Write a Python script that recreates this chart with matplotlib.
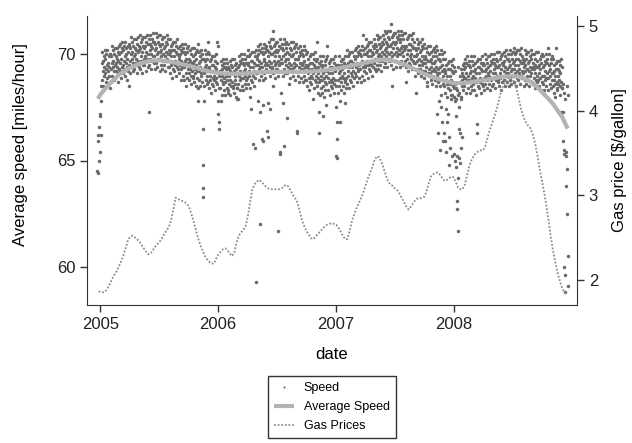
# -*- coding: utf-8 -*-

# Import required libraries
import matplotlib
matplotlib.use('Agg')
import matplotlib.pyplot as plt
import matplotlib.dates as mdates
import pandas as pd

# Parameters for the figure
plt.rcParams['font.family'] = ['Liberation Sans', 'DejaVu Sans']
plt.rcParams['axes.labelsize'] = 12
plt.rcParams['xtick.labelsize'] = 12
plt.rcParams['ytick.labelsize'] = 12
plt.rcParams['axes.edgecolor'] = '#333333'
plt.rcParams['xtick.color'] = '#333333'
plt.rcParams['ytick.color'] = '#333333'
plt.rcParams['xtick.labelcolor'] = '#222222'
plt.rcParams['ytick.labelcolor'] = '#222222'

# Colors
speed_color = '#6a6a6a'
avg_color = '#b3b3b3'
gas_color = '#8c8c8c'

# Daily speed readings, one list per month
speed_dec2004 = [64.5, 66.2, 65.9, 64.4, 66.6, 65.0, 67.1, 65.4]

speed_2005 = [
    [67.2, 66.2, 67.8, 68.5, 69.6, 68.8, 70.1, 69.2, 69.7, 68.5, 69.4, 69.9, 69.0, 70.2, 69.1,
     69.8, 68.7, 69.3, 70.0, 68.9, 69.5, 70.2, 68.6, 69.6, 69.2, 69.9, 69.0, 69.4, 68.4, 70.0],
    [70.0, 69.3, 68.7, 69.9, 69.6, 70.4, 69.0, 69.7, 69.4, 70.2, 68.8, 70.0, 69.2, 69.5, 70.3,
     68.9, 69.9, 69.6, 69.2, 70.3, 69.4, 69.8, 68.7, 70.1, 69.1, 69.7, 70.4, 69.3],
    [70.0, 69.2, 70.5, 69.6, 70.1, 68.9, 69.8, 70.3, 69.4, 70.6, 69.5, 70.2, 69.1, 69.7, 70.4,
     69.3, 69.9, 70.6, 69.0, 70.0, 69.6, 70.3, 69.4, 69.8, 68.8, 70.4, 70.1, 69.2, 70.5, 69.5, 68.5],
    [70.4, 69.7, 69.1, 70.3, 70.0, 70.8, 69.4, 70.1, 69.8, 70.6, 69.2, 70.4, 69.6, 69.9, 70.7,
     69.3, 70.3, 70.0, 69.6, 70.7, 69.8, 70.2, 69.1, 70.5, 69.5, 70.1, 70.8, 69.7, 70.4, 69.4],
    [69.6, 70.2, 70.9, 69.3, 70.3, 69.9, 70.6, 69.7, 70.1, 69.1, 70.7, 70.4, 69.5, 70.8, 69.8,
     70.3, 69.5, 70.8, 69.9, 70.4, 69.2, 70.1, 70.6, 69.7, 70.9, 69.8, 70.5, 69.4, 70.0, 70.7, 67.3],
    [69.5, 70.5, 70.2, 69.8, 70.9, 70.0, 70.4, 69.3, 70.7, 69.7, 70.3, 71.0, 69.9, 70.6, 69.6,
     70.6, 69.9, 69.3, 70.5, 70.2, 71.0, 69.6, 70.3, 70.0, 70.8, 69.4, 70.6, 69.8, 70.1, 70.9],
    [70.5, 69.8, 69.2, 70.4, 70.1, 70.9, 69.5, 70.2, 69.9, 70.7, 69.3, 70.5, 69.7, 70.0, 70.8,
     70.3, 69.5, 70.8, 69.9, 70.4, 69.2, 70.1, 70.6, 69.7, 70.9, 69.8, 70.5, 69.4, 70.0, 70.7, 70.2],
    [69.4, 70.0, 70.7, 69.1, 70.1, 69.7, 70.4, 69.5, 69.9, 68.9, 70.5, 70.2, 69.3, 70.6, 69.6,
     69.2, 70.2, 69.9, 69.5, 70.6, 69.7, 70.1, 69.0, 70.4, 69.4, 70.0, 70.7, 69.6, 70.3, 69.3, 69.8],
    [69.9, 69.1, 70.4, 69.5, 70.0, 68.8, 69.7, 70.2, 69.3, 70.5, 69.4, 70.1, 69.0, 69.6, 70.3,
     70.1, 69.4, 68.8, 70.0, 69.7, 70.5, 69.1, 69.8, 68.5, 70.3, 68.9, 70.1, 69.3, 69.6, 70.4],
    [68.8, 69.8, 69.5, 69.1, 70.2, 69.3, 69.7, 68.6, 70.0, 69.0, 69.6, 70.3, 69.2, 69.9, 68.9,
     69.0, 69.6, 70.3, 68.7, 69.7, 69.3, 70.0, 69.1, 69.5, 68.5, 70.1, 69.8, 68.9, 70.2, 69.2,
     68.4, 67.8, 70.5],
    [69.6, 68.8, 70.1, 69.2, 69.7, 68.5, 69.4, 69.9, 69.0, 70.2, 69.1, 69.8, 68.7, 69.3, 70.0,
     66.5, 64.8, 63.7, 63.3, 67.8,
     69.8, 69.1, 68.5, 69.7, 69.4, 70.2, 68.8, 69.5, 69.2, 70.0, 68.6, 69.8, 69.0, 69.3, 70.1, 70.6],
    [68.7, 69.3, 70.0, 68.4, 69.4, 69.0, 69.7, 68.8, 69.2, 68.2, 69.8, 69.5, 68.6, 69.9, 68.9,
     68.5, 69.5, 69.2, 68.8, 69.9, 69.0, 69.4, 68.3, 69.7, 68.7, 69.3, 70.0, 68.9, 69.6, 68.6,
     70.6, 67.8, 70.4],
]

speed_2006 = [
    [67.2, 66.8, 69.0, 66.5, 68.4, 69.2, 69.2, 68.4, 69.7, 68.8, 67.8, 69.3, 68.1, 69.0, 69.5,
     68.6, 69.8, 68.7, 69.4, 68.3, 68.9, 69.6, 69.4, 68.7, 68.1, 69.3, 69.0, 69.8, 68.4, 69.1,
     68.8, 69.6, 68.2, 69.4],
    [68.3, 69.3, 69.0, 68.6, 69.7, 68.8, 69.2, 68.1, 69.5, 68.5, 69.1, 69.8, 68.7, 69.4, 68.4,
     68.5, 69.1, 69.8, 68.2, 69.2, 68.8, 69.5, 68.6, 69.0, 68.0, 69.6, 69.3, 68.4, 67.9],
    [68.4, 67.9, 69.4, 68.6, 69.9, 69.0, 69.5, 68.3, 69.2, 69.7, 68.8, 70.0, 68.9, 69.6, 68.5,
     69.1, 69.8, 69.6, 68.9, 68.3, 69.5, 69.2, 70.0, 68.6, 69.3, 69.0, 69.8, 68.4, 69.6, 68.8,
     69.1, 69.9],
    [68.9, 69.5, 70.2, 68.6, 69.6, 69.2, 69.9, 69.0, 68.0, 69.4, 68.4, 70.0, 69.7, 68.8, 67.4,
     70.1, 69.1, 68.7, 69.7, 69.4, 69.0, 65.8, 70.1, 69.2, 69.6, 68.5, 69.9, 65.6, 68.9, 69.5,
     70.2, 69.1, 59.3, 69.8],
    [69.9, 69.1, 70.4, 67.8, 69.5, 70.0, 68.8, 69.7, 70.2, 69.3, 67.3, 62.0, 70.5, 69.4, 70.1,
     69.0, 69.6, 70.3, 66.0, 70.1, 69.4, 68.8, 70.0, 67.6, 65.9, 69.7, 70.5, 69.1, 69.8, 69.5,
     70.3, 68.9, 70.1, 69.3, 69.6, 70.4, 66.4, 70.2],
    [69.2, 70.2, 69.9, 67.7, 66.1, 69.5, 70.6, 69.7, 70.1, 69.0, 67.4, 70.4, 69.4, 70.0, 70.7,
     69.6, 70.3, 69.3, 69.4, 70.0, 70.7, 68.5, 71.1, 69.1, 70.1, 69.7, 70.4, 69.5, 69.9, 68.9,
     70.5, 70.2, 69.3, 70.6, 69.6],
    [70.1, 69.3, 70.6, 61.7, 69.7, 70.2, 69.0, 69.9, 70.4, 69.5, 65.4, 65.3, 70.7, 69.6, 70.3,
     69.2, 68.2, 69.8, 70.5, 70.3, 69.6, 69.0, 70.2, 69.9, 67.7, 65.7, 70.7, 69.3, 70.0, 69.7,
     70.5, 69.1, 70.3, 69.5, 69.8, 70.6],
    [67.0, 69.1, 70.1, 69.8, 69.4, 70.5, 69.6, 68.6, 70.0, 68.9, 70.3, 69.3, 69.9, 70.6, 69.5,
     70.2, 69.2, 69.3, 69.9, 70.6, 69.0, 70.0, 69.6, 70.3, 69.4, 69.8, 68.8, 70.4, 70.1, 69.2,
     70.5, 69.5],
    [66.4, 69.8, 66.3, 69.8, 69.0, 70.3, 69.4, 69.9, 68.7, 69.6, 70.1, 69.2, 70.4, 69.3, 70.0,
     68.9, 69.5, 70.2, 70.0, 69.3, 68.7, 69.9, 69.6, 70.4, 69.0, 69.7, 69.4, 70.2, 68.8, 70.0,
     69.2, 69.5],
    [68.8, 69.4, 70.1, 68.5, 69.5, 69.1, 69.8, 68.9, 69.3, 68.3, 69.9, 69.6, 68.7, 70.0, 69.0,
     68.6, 69.6, 69.3, 68.9, 70.0, 67.9, 69.1, 69.5, 68.4, 69.8, 68.8, 69.4, 70.1, 69.0, 69.7,
     68.7],
    [69.3, 68.5, 69.8, 70.6, 68.9, 69.4, 68.2, 69.1, 69.6, 68.7, 67.3, 66.3, 68.1, 69.9, 68.8,
     69.5, 68.4, 69.0, 69.7, 69.5, 68.8, 68.2, 69.4, 69.1, 69.9, 68.5, 67.1, 68.0, 69.2, 68.9,
     69.7, 68.3, 69.5, 68.7, 69.0, 69.8],
    [68.6, 67.6, 69.2, 70.4, 69.9, 68.3, 69.3, 68.9, 69.6, 68.7, 69.1, 68.1, 69.7, 69.4, 68.5,
     69.8, 68.8, 68.4, 69.4, 69.1, 68.7, 69.8, 68.9, 69.3, 68.2, 69.6, 68.6, 69.2, 69.9, 68.8,
     69.5, 68.5],
]

speed_2007 = [
    [65.2, 67.5, 66.0, 65.1, 66.8, 69.5, 68.8, 68.2, 69.4, 69.1, 69.9, 68.5, 69.2, 68.9, 66.8,
     67.8, 69.7, 68.3, 69.5, 68.7, 69.0, 69.8, 69.3, 68.5, 69.8, 68.9, 69.4, 68.2, 69.1, 69.6,
     68.7, 69.9, 68.8, 67.7, 69.5, 68.4],
    [68.9, 69.5, 70.2, 68.6, 69.6, 69.2, 69.9, 69.0, 69.4, 68.4, 70.0, 69.7, 68.8, 70.1, 69.1,
     68.7, 69.7, 69.4, 69.0, 70.1, 69.2, 69.6, 68.5, 69.9, 68.9, 69.5, 70.2, 69.1],
    [69.8, 69.0, 70.3, 69.4, 69.9, 68.7, 69.6, 70.1, 69.2, 70.4, 69.3, 70.0, 68.9, 69.5, 70.2,
     70.0, 69.3, 68.7, 69.9, 69.6, 70.4, 69.0, 69.7, 69.4, 70.9, 70.2, 68.8, 70.0, 69.2, 69.5,
     70.3],
    [69.4, 70.0, 70.7, 69.1, 70.1, 69.7, 70.4, 69.5, 69.9, 68.9, 70.5, 70.2, 69.3, 70.6, 69.6,
     69.2, 70.2, 69.9, 69.5, 70.6, 69.7, 70.1, 69.0, 70.4, 69.4, 70.0, 70.7, 69.6, 70.3, 69.3],
    [70.5, 69.8, 69.2, 70.4, 70.1, 70.9, 69.5, 70.2, 69.9, 70.7, 69.3, 70.5, 69.7, 70.0, 70.8,
     70.3, 69.5, 70.8, 69.9, 70.4, 69.2, 70.1, 70.6, 69.7, 70.9, 69.8, 70.5, 69.4, 70.0, 70.7, 70.2],
    [71.1, 69.6, 70.6, 70.3, 69.9, 71.0, 70.1, 70.5, 69.4, 70.8, 69.8, 70.4, 71.1, 70.0, 70.7,
     69.7, 69.8, 70.4, 71.1, 71.4, 69.5, 70.5, 70.1, 70.8, 69.9, 68.5, 70.3, 69.3, 70.9, 70.6,
     69.7, 71.0, 70.0],
    [70.5, 69.7, 71.0, 70.1, 70.6, 69.4, 70.3, 70.8, 69.9, 71.1, 70.0, 70.7, 69.6, 70.2, 70.9,
     70.7, 70.0, 69.4, 70.6, 70.3, 71.1, 69.7, 70.4, 70.1, 70.9, 69.5, 70.7, 69.9, 70.2, 71.0, 70.4],
    [69.7, 70.3, 71.0, 69.4, 68.7, 70.4, 70.0, 70.7, 69.8, 70.2, 69.2, 70.8, 70.5, 69.6, 70.9,
     69.9, 69.5, 70.5, 70.2, 69.8, 70.9, 70.0, 70.4, 69.3, 70.7, 69.7, 70.3, 71.0, 69.9, 70.6, 69.6],
    [70.3, 69.6, 69.0, 70.2, 68.2, 69.9, 70.7, 69.3, 70.0, 69.7, 70.5, 69.1, 70.3, 69.5, 69.8,
     70.6, 70.1, 69.3, 70.6, 69.7, 70.2, 69.0, 69.9, 70.4, 69.5, 70.7, 69.6, 70.3, 69.2, 69.8, 70.5],
    [68.9, 69.9, 69.6, 69.2, 70.3, 69.4, 69.8, 68.7, 68.5, 70.1, 69.1, 69.7, 70.4, 69.3, 70.0,
     69.0, 69.1, 69.7, 70.4, 68.8, 69.8, 69.4, 70.1, 69.2, 69.6, 68.6, 70.2, 69.9, 69.0, 70.3, 69.3],
    [69.6, 68.8, 70.1, 69.2, 69.7, 68.5, 70.4, 69.4, 69.9, 69.0, 67.2, 70.2, 69.1, 69.8, 66.3,
     68.7, 69.3, 67.8, 70.0, 69.8, 69.1, 65.5, 68.5, 69.7, 69.4, 68.1, 67.5, 70.2, 68.8, 69.5,
     66.8, 69.2, 70.0, 68.6, 69.8, 69.0, 65.9, 69.3, 70.1],
    [68.5, 66.3, 69.1, 69.8, 65.9, 68.2, 69.2, 67.4, 68.8, 69.5, 65.4, 68.6, 69.0, 66.8, 68.0,
     69.6, 67.2, 69.3, 68.4, 64.8, 69.7, 68.7, 66.1, 68.3, 69.3, 65.6, 69.0, 68.6, 67.9, 69.7,
     68.8, 68.1, 69.2, 68.1, 65.2, 69.5, 68.5, 69.1, 69.8, 68.7, 69.4, 68.4],
]

speed_2008 = [
    [68.0, 65.3, 67.8, 68.6, 65.0, 69.2, 67.1, 68.4, 64.7, 67.9, 68.3, 65.2, 63.1, 62.7, 61.7,
     68.1, 64.2, 69.4, 66.5, 68.2, 65.1, 67.5, 69.0, 64.9, 68.7, 66.3, 68.0, 69.3, 65.6, 67.9,
     68.5, 69.1, 66.1, 68.8, 69.5, 68.3, 69.0, 68.6, 69.6, 68.9],
    [69.3, 68.5, 69.8, 68.9, 69.4, 68.2, 69.1, 69.6, 68.7, 69.9, 68.8, 69.5, 68.4, 69.0, 69.7,
     69.5, 68.8, 68.2, 69.4, 69.1, 69.9, 68.5, 69.2, 68.9, 69.7, 68.3, 69.5, 68.7, 69.0],
    [68.6, 69.2, 69.9, 68.3, 69.3, 68.9, 69.6, 68.7, 69.1, 68.1, 69.7, 66.7, 66.3, 69.4, 68.5,
     69.8, 68.8, 68.4, 69.4, 69.1, 68.7, 69.8, 68.9, 69.3, 68.2, 69.6, 68.6, 69.2, 69.9, 68.8,
     69.5, 68.5],
    [69.6, 68.9, 68.3, 69.5, 69.2, 70.0, 68.6, 69.3, 69.0, 69.8, 68.4, 69.6, 68.8, 69.1, 69.9,
     69.4, 68.6, 69.9, 69.0, 69.5, 68.3, 69.2, 69.7, 68.8, 70.0, 68.9, 69.6, 68.5, 69.1, 69.8],
    [68.6, 69.6, 69.3, 68.9, 70.0, 69.1, 69.5, 68.4, 69.8, 68.8, 69.4, 70.1, 69.0, 69.7, 68.7,
     68.8, 69.4, 70.1, 68.5, 69.5, 69.1, 69.8, 68.9, 69.3, 68.3, 69.9, 69.6, 68.7, 70.0, 69.0, 69.5],
    [69.6, 68.8, 70.1, 69.2, 69.7, 68.5, 69.4, 69.9, 69.0, 70.2, 69.1, 69.8, 68.7, 69.3, 70.0,
     69.8, 69.1, 68.5, 69.7, 69.4, 70.2, 68.8, 69.5, 69.2, 70.0, 68.6, 69.8, 69.0, 69.3, 70.1],
    [69.0, 69.6, 70.3, 68.7, 69.7, 69.3, 70.0, 69.1, 69.5, 68.5, 70.1, 69.8, 68.9, 70.2, 69.2,
     68.8, 69.8, 69.5, 69.1, 70.2, 69.3, 69.7, 68.6, 70.0, 69.0, 69.6, 70.3, 69.2, 69.9, 68.9, 69.6],
    [69.8, 69.1, 68.5, 69.7, 69.4, 70.2, 68.8, 69.5, 69.2, 70.0, 68.6, 69.8, 69.0, 69.3, 70.1,
     69.6, 68.8, 70.1, 69.2, 69.7, 68.5, 69.4, 69.9, 69.0, 70.2, 69.1, 69.8, 68.7, 69.3, 70.0, 69.4],
    [68.6, 69.6, 69.3, 68.9, 70.0, 69.1, 69.5, 68.4, 69.8, 68.8, 69.4, 70.1, 69.0, 69.7, 68.7,
     68.8, 69.4, 70.1, 68.5, 69.5, 69.1, 69.8, 68.9, 69.3, 68.3, 69.9, 69.6, 68.7, 70.0, 69.0],
    [69.4, 68.6, 69.9, 69.0, 69.5, 68.3, 69.2, 69.7, 68.8, 70.0, 68.9, 69.6, 68.5, 69.1, 69.8,
     69.6, 68.9, 68.3, 70.3, 69.5, 69.2, 70.0, 68.6, 69.3, 69.0, 69.8, 68.4, 69.6, 68.8, 69.1, 69.9],
    [68.5, 69.1, 69.8, 68.2, 69.2, 68.8, 69.5, 68.6, 69.0, 68.0, 69.6, 70.3, 69.3, 68.4, 69.7,
     68.7, 68.3, 69.3, 69.0, 68.6, 69.7, 68.8, 69.2, 68.1, 69.5, 68.5, 69.1, 69.8, 67.3, 68.7,
     69.4, 68.4],
    [68.4, 67.3, 65.9, 68.6, 65.5, 60.0, 68.2, 65.3, 58.8, 59.6, 67.9, 65.4, 63.8, 65.2, 68.5,
     64.6, 62.5, 60.5, 59.1, 68.1],
]
speed_end = '2008-12-20'

# Smoothed average speed, first of each month
avg_speed = [68.1, 68.65, 69.05, 69.35, 69.55, 69.68, 69.72, 69.66, 69.57, 69.46, 69.33, 69.2,
             69.12, 69.08, 69.08, 69.1, 69.15, 69.17, 69.17, 69.17, 69.17, 69.18, 69.2, 69.26,
             69.32, 69.4, 69.5, 69.6, 69.7, 69.76, 69.68, 69.52, 69.3, 69.08, 68.9, 68.75,
             68.64, 68.64, 68.7, 68.78, 68.86, 68.94, 68.98, 68.9, 68.65, 68.2, 67.7, 67.05]
avg_first = 67.9
avg_last = 66.5

# Weekly gas prices from 2004-12-27
gas_prices = [1.86,
    1.86, 1.85, 1.86, 1.90, 1.95, 2.01, 2.06, 2.10, 2.16, 2.22, 2.29, 2.38, 2.47, 2.51, 2.52, 2.50,
    2.48, 2.45, 2.41, 2.37, 2.33, 2.30, 2.31, 2.35, 2.39, 2.42, 2.45, 2.49, 2.54, 2.58, 2.62, 2.70,
    2.82, 2.97, 2.96, 2.94, 2.93, 2.92, 2.90, 2.86, 2.78, 2.69, 2.59, 2.49, 2.41, 2.34, 2.28, 2.24,
    2.21, 2.19, 2.19, 2.25, 2.30, 2.33, 2.36, 2.37, 2.35, 2.31, 2.28, 2.32, 2.44, 2.52, 2.56, 2.59,
    2.63, 2.75, 2.92, 3.07, 3.13, 3.16, 3.18, 3.16, 3.13, 3.10, 3.08, 3.07, 3.07, 3.07, 3.07, 3.07,
    3.08, 3.11, 3.12, 3.10, 3.05, 3.00, 2.96, 2.91, 2.80, 2.70, 2.63, 2.57, 2.53, 2.49, 2.48, 2.51,
    2.54, 2.57, 2.60, 2.63, 2.65, 2.66, 2.67, 2.66, 2.65, 2.62, 2.57, 2.52, 2.48, 2.48, 2.58, 2.69,
    2.77, 2.84, 2.90, 2.96, 3.03, 3.11, 3.19, 3.26, 3.33, 3.41, 3.46, 3.45, 3.40, 3.32, 3.24, 3.16,
    3.13, 3.11, 3.08, 3.06, 3.02, 2.97, 2.92, 2.87, 2.83, 2.86, 2.90, 2.94, 2.96, 2.96, 2.97, 2.98,
    3.04, 3.14, 3.22, 3.25, 3.26, 3.27, 3.24, 3.20, 3.17, 3.18, 3.20, 3.22, 3.21, 3.15, 3.09, 3.07,
    3.07, 3.13, 3.24, 3.35, 3.42, 3.47, 3.50, 3.52, 3.53, 3.53, 3.58, 3.68, 3.77, 3.85, 3.93, 4.01,
    4.12, 4.23, 4.30, 4.35, 4.38, 4.40, 4.38, 4.32, 4.24, 4.12, 4.00, 3.92, 3.86, 3.82, 3.79, 3.72,
    3.62, 3.48, 3.32, 3.18, 3.04, 2.88, 2.70, 2.50, 2.34, 2.20, 2.08, 1.98, 1.90, 1.85, 1.83]

years = ['2005', '2006', '2007', '2008']


# Spread the readings of a month evenly over its days
def spread(start, stop, values):
    step = (stop - start) / len(values)
    return [start + step * (i + 0.5) for i in range(len(values))]


speed_dates = spread(pd.Timestamp('2004-12-22'), pd.Timestamp('2005-01-01'), speed_dec2004)
speed_vals = list(speed_dec2004)
for year, months in zip([2005, 2006, 2007, 2008], [speed_2005, speed_2006, speed_2007, speed_2008]):
    for m, v in enumerate(months, start=1):
        start = pd.Timestamp(year, m, 1)
        stop = min(start + pd.offsets.MonthBegin(1), pd.Timestamp(speed_end))
        speed_dates += spread(start, stop, v)
        speed_vals += v

avg_dates = ([pd.Timestamp('2004-12-25')]
             + list(pd.date_range('2005-01-01', periods=len(avg_speed), freq='MS'))
             + [pd.Timestamp('2008-12-18')])
avg_vals = [avg_first] + avg_speed + [avg_last]

gas_dates = pd.date_range('2004-12-27', periods=len(gas_prices), freq='7D')

# Plot
fig = plt.figure(figsize=(6.32, 4.43), dpi=100)
ax = fig.add_axes([87 / 632, 1 - 305 / 443, 490 / 632, 289 / 443])
ax2 = ax.twinx()

h1, = ax.plot(speed_dates, speed_vals, ls='None', marker='o', ms=2.5,
              mec='none', mfc=speed_color, label='Speed')
h2, = ax.plot(avg_dates, avg_vals, color=avg_color, lw=3, solid_capstyle='butt',
              label='Average Speed')
h3, = ax2.plot(gas_dates, gas_prices, color=gas_color, lw=1.3, ls=(0, (1, 1)),
               label='Gas Prices')

ax.set_xlim(pd.Timestamp('2004-11-21'), pd.Timestamp('2009-01-16'))
ax.set_ylim(58.2, 71.8)
ax2.set_ylim(1.70, 5.12)
ax.set_yticks([60, 65, 70])
ax2.set_yticks([2, 3, 4, 5])
ax.set_xticks([pd.Timestamp(y + '-01-01') for y in years])
ax.xaxis.set_major_formatter(mdates.DateFormatter('%Y'))

for a in (ax, ax2):
    a.spines['top'].set_visible(False)
    a.tick_params(direction='out', length=5, width=1)
ax.spines['right'].set_visible(False)
ax2.spines['left'].set_visible(False)
ax2.spines['bottom'].set_visible(False)

ax.set_xlabel('date')
ax.set_ylabel('Average speed [miles/hour]')
ax2.set_ylabel(r'Gas price [\$/gallon]')
ax.yaxis.set_label_coords(-0.120, 0.554)
ax2.yaxis.set_label_coords(1.071, 0.5)
ax.xaxis.set_label_coords(0.5, -0.145)

fig.legend(handles=[h1, h2, h3], loc='upper center', bbox_to_anchor=(0.525, 0.151),
           fontsize=9, frameon=True, fancybox=False, edgecolor='black', borderaxespad=0,
           handlelength=1.6, labelspacing=0.55, borderpad=0.5, markerscale=0.6)

plt.savefig('out.png', dpi=100)
